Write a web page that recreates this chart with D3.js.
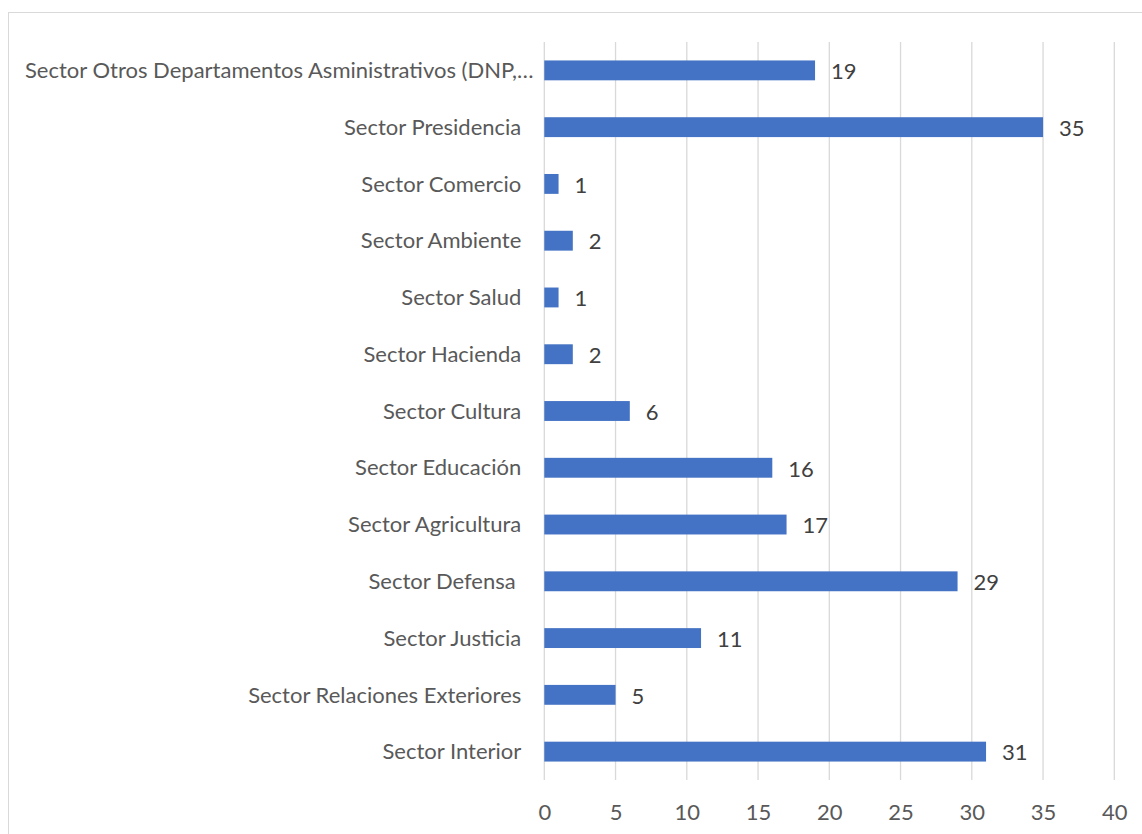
<!DOCTYPE html>
<html>
<head>
<meta charset="utf-8">
<script src="https://cdn.jsdelivr.net/npm/d3@7"></script>
<style>
  html, body { margin: 0; padding: 0; background: #fff; }
  svg { display: block; }
  text { font-family: Lato, "Open Sans", sans-serif; }
</style>
</head>
<body>
<svg id="chart" width="1142" height="834"></svg>
<script>
// Sectors, top to bottom
const categories = [
  "Sector Otros Departamentos Asministrativos (DNP,…",
  "Sector Presidencia",
  "Sector Comercio",
  "Sector Ambiente",
  "Sector Salud",
  "Sector Hacienda",
  "Sector Cultura",
  "Sector Educación",
  "Sector Agricultura",
  "Sector Defensa ",
  "Sector Justicia",
  "Sector Relaciones Exteriores",
  "Sector Interior"
];
const values = [19, 35, 1, 2, 1, 2, 6, 16, 17, 29, 11, 5, 31];
const xTicks = [0, 5, 10, 15, 20, 25, 30, 35, 40];

const svg = d3.select("#chart");
const W = 1142, H = 834;
const margin = { top: 42, right: 27.7, bottom: 54, left: 544.3 };
const fontSize = 22;

// Chart frame
svg.append("rect")
  .attr("x", 8.5).attr("y", 12.5)
  .attr("width", W + 20).attr("height", H + 20)
  .attr("fill", "#fff").attr("stroke", "#d9d9d9").attr("stroke-width", 1);

const x = d3.scaleLinear().domain([0, 40]).range([margin.left, W - margin.right]);
const y = d3.scaleBand().domain(categories)
  .range([margin.top, H - margin.bottom])
  .paddingInner(0.65).paddingOuter(0.325);

// Vertical gridlines
svg.append("g").selectAll("line").data(xTicks).join("line")
  .attr("x1", d => x(d)).attr("x2", d => x(d))
  .attr("y1", margin.top).attr("y2", H - margin.bottom)
  .attr("stroke", "#d9d9d9").attr("stroke-width", 1.3);

// X axis labels
const xAxis = d3.axisBottom(x).tickValues(xTicks).tickSize(0).tickPadding(0);
const gx = svg.append("g")
  .attr("transform", `translate(0,${H - margin.bottom})`)
  .call(xAxis);
gx.select(".domain").remove();
gx.selectAll("text")
  .attr("y", 40).attr("dy", null)
  .attr("fill", "#595959")
  .style("font-size", fontSize + "px");

// Y axis category labels
const yAxis = d3.axisLeft(y).tickSize(0).tickPadding(23);
const gy = svg.append("g")
  .attr("transform", `translate(${margin.left},0)`)
  .call(yAxis);
gy.select(".domain").remove();
gy.selectAll("text")
  .attr("fill", "#595959")
  .attr("dy", "0.35em")
  .style("font-size", fontSize + "px")
  .style("white-space", "pre")
  .each(function () {
    // Labels too long for the left column start at the frame edge
    const w = this.getComputedTextLength();
    if (w > margin.left - 23 - 17) {
      d3.select(this).attr("text-anchor", "start").attr("x", 25 - margin.left);
    }
  });

// Bars
svg.append("g").selectAll("rect").data(values).join("rect")
  .attr("x", x(0))
  .attr("y", (d, i) => y(categories[i]))
  .attr("width", d => x(d) - x(0))
  .attr("height", y.bandwidth())
  .attr("fill", "#4472c4");

// Value labels
svg.append("g").selectAll("text").data(values).join("text")
  .attr("x", d => x(d) + 16)
  .attr("y", (d, i) => y(categories[i]) + y.bandwidth() / 2)
  .attr("dy", "0.4em")
  .attr("fill", "#404040")
  .style("font-size", fontSize + "px")
  .text(d => d);
</script>
</body>
</html>
